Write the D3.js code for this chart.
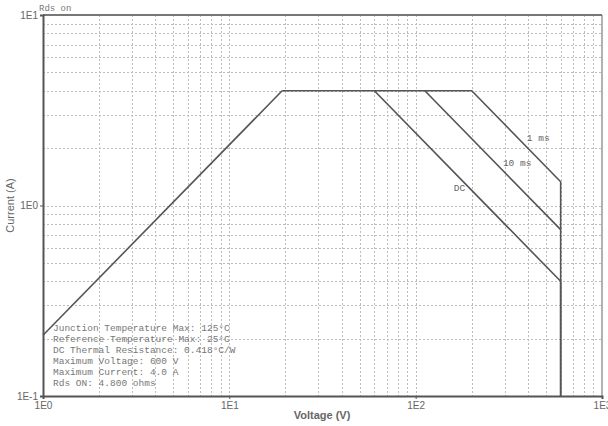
<!DOCTYPE html>
<html>
<head>
<meta charset="utf-8">
<script src="https://cdn.jsdelivr.net/npm/d3@7"></script>
<style>
	body { margin: 0; background: #fff; }
	svg { display: block; }
</style>
</head>
<body>
<div id="graph"></div>
<script>
"use strict";
// safe operating area curves (voltage V, current A)
let rdsVolts = [1, 19.2];
let rdsAmps = [0.2083, 4.0];
let dcVolts = [19.2, 60, 600];
let dcAmps = [4.0, 4.0, 0.4];
let tenMsVolts = [60, 112, 600];
let tenMsAmps = [4.0, 4.0, 0.747];
let oneMsVolts = [112, 200, 600, 600];
let oneMsAmps = [4.0, 4.0, 1.333, 0.1];
let curveNames = ["DC", "10 ms", "1 ms"];
let xTickLabels = ["1E0", "1E1", "1E2", "1E3"];
let yTickLabels = ["1E-1", "1E0", "1E1"];
let notes = [
	"Junction Temperature Max: 125\u00b0C",
	"Reference Temperature Max: 25\u00b0C",
	"DC Thermal Resistance: 0.418\u00b0C/W",
	"Maximum Voltage: 600 V",
	"Maximum Current: 4.0 A",
	"Rds ON: 4.800 ohms"
];

let width = 608, height = 426;
let margin = { top: 15, right: 6, bottom: 30, left: 43 };

let svg = d3.select("#graph")
			.append("svg")
			.attr("width", width)
			.attr("height", height);

let x = d3.scaleLog().domain([1, 1000]).range([margin.left, width - margin.right]);
let y = d3.scaleLog().domain([0.1, 10]).range([height - margin.bottom, margin.top]);

// grid
let xGrid = [];
for (let d = 1; d < 1000; d *= 10)
	for (let k = 1; k < 10; k++)
		if (d * k > 1) xGrid.push(d * k);
let yGrid = [];
for (let d = 0.1; d < 9; d *= 10)
	for (let k = 1; k < 10; k++)
		if (d * k > 0.1) yGrid.push(d * k);

let grid = svg.append("g").attr("stroke", "#bcbcbc").attr("stroke-width", 1).attr("stroke-dasharray", "2,2");
grid.selectAll(".vx").data(xGrid).enter().append("line")
	.attr("x1", d => Math.round(x(d)) + 0.5).attr("x2", d => Math.round(x(d)) + 0.5)
	.attr("y1", y(10)).attr("y2", y(0.1));
grid.selectAll(".hy").data(yGrid).enter().append("line")
	.attr("x1", x(1)).attr("x2", x(1000))
	.attr("y1", d => Math.round(y(d)) + 0.5).attr("y2", d => Math.round(y(d)) + 0.5);

// frame
svg.append("line").attr("x1", x(1000)).attr("x2", x(1000)).attr("y1", y(10)).attr("y2", y(0.1))
	.attr("stroke", "#999").attr("stroke-width", 1.5);
svg.append("line").attr("x1", x(1)).attr("x2", x(1000)).attr("y1", y(10)).attr("y2", y(10))
	.attr("stroke", "#777").attr("stroke-width", 2);

// axes
let xAxis = d3.axisBottom(x).tickValues([1, 10, 100, 1000])
	.tickFormat((d, i) => xTickLabels[i]).tickSize(3).tickPadding(3);
let gx = svg.append("g").attr("transform", "translate(0," + y(0.1) + ")").call(xAxis);
let yAxis = d3.axisLeft(y).tickValues([0.1, 1, 10])
	.tickFormat((d, i) => yTickLabels[i]).tickSize(3).tickPadding(2);
let gy = svg.append("g").attr("transform", "translate(" + x(1) + ",0)").call(yAxis);
[gx, gy].forEach(function(g)
{
	g.select(".domain").attr("stroke", "#555").attr("stroke-width", 2);
	g.selectAll(".tick line").attr("stroke", "#555");
	g.selectAll("text").attr("fill", "#666").style("font-family", "Liberation Sans, Arial, sans-serif").style("font-size", "10px");
});

svg.append("text").attr("x", 322).attr("y", 419).attr("text-anchor", "middle")
	.attr("fill", "#666").style("font-family", "Liberation Sans, Arial, sans-serif").style("font-size", "11px")
	.style("font-weight", "bold")
	.text("Voltage (V)");
svg.append("text").attr("transform", "translate(14," + y(1) + ") rotate(-90)").attr("text-anchor", "middle")
	.attr("fill", "#666").style("font-family", "Liberation Sans, Arial, sans-serif").style("font-size", "11px")
	.text("Current (A)");
svg.append("text").attr("x", 39).attr("y", 11)
	.attr("fill", "#777").style("font-family", "Liberation Mono, monospace").style("font-size", "9px")
	.text("Rds on");

// curves
let line = d3.line().x(d => x(d[0])).y(d => y(d[1]));
function zip(a, b) { return a.map((v, i) => [v, b[i]]); }
let curves = [zip(rdsVolts, rdsAmps), zip(dcVolts, dcAmps), zip(tenMsVolts, tenMsAmps), zip(oneMsVolts, oneMsAmps)];
svg.append("g").selectAll(".curve").data(curves).enter().append("path")
	.attr("class", "curve")
	.attr("d", line)
	.attr("fill", "none")
	.attr("stroke", "#555")
	.attr("stroke-width", 1.6);
// vertical 600 V line down to the axis for all curves
svg.append("line").attr("x1", x(600)).attr("x2", x(600)).attr("y1", y(0.4)).attr("y2", y(0.1))
	.attr("stroke", "#555").attr("stroke-width", 1.6);

// curve labels, placed beside the sloped part of each curve
let labelPos = [[160, 1.19], [294, 1.62], [395, 2.17]];
svg.append("g").selectAll("text").data(curveNames).enter().append("text")
	.attr("x", (d, i) => x(labelPos[i][0]))
	.attr("y", (d, i) => y(labelPos[i][1]))
	.attr("fill", "#666")
	.style("font-family", "Liberation Mono, monospace")
	.style("font-size", "9.5px")
	.text(d => d);

// notes
svg.append("g").selectAll("text").data(notes).enter().append("text")
	.attr("x", 53)
	.attr("y", (d, i) => 331 + i * 11)
	.attr("fill", "#777")
	.style("font-family", "Liberation Mono, monospace")
	.style("font-size", "9.5px")
	.text(d => d);
</script>
</body>
</html>
